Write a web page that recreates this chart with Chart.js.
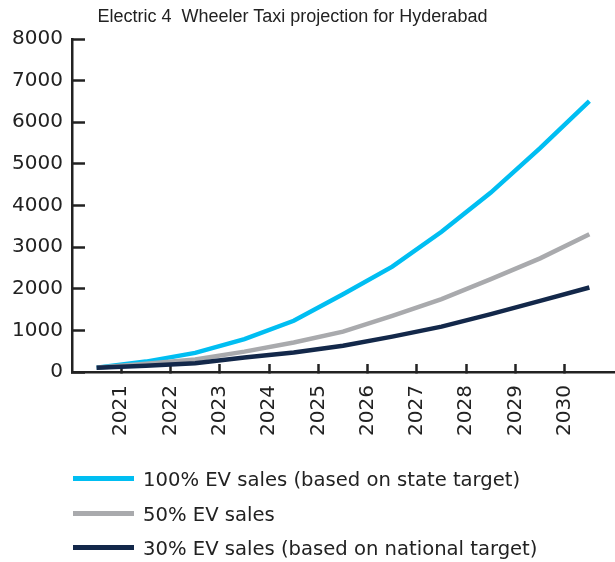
<!DOCTYPE html>
<html>
<head>
<meta charset="utf-8">
<script src="https://cdn.jsdelivr.net/npm/chart.js@4/dist/chart.umd.min.js"></script>
<style>
  html, body { margin: 0; padding: 0; background: #ffffff; }
  #wrap { position: relative; width: 615px; height: 562px; overflow: hidden; background: #fff; }
  #c { position: absolute; left: 0; top: 0; }
  #title { position: absolute; left: 0; top: 7px; width: 585px; text-align: center;
           font-family: "Liberation Sans", Arial, sans-serif; font-size: 18px; line-height: 18px;
           color: #222; white-space: pre; }
  .lg { position: absolute; left: 73px; height: 20px; display: flex; align-items: center;
        font-family: "DejaVu Sans", sans-serif; font-size: 19.6px; line-height: 20px; color: #222; white-space: nowrap; }
  .lg .sw { width: 61px; height: 5px; margin-right: 9px; position: relative; top: -2px; }
</style>
</head>
<body>
<div id="wrap">
  <canvas id="c" width="615" height="562"></canvas>
  <div id="title"></div>
  <div id="legend"></div>
</div>
<script>
const chartTitle = "Electric 4  Wheeler Taxi projection for Hyderabad";
const years = ["2021", "2022", "2023", "2024", "2025", "2026", "2027", "2028", "2029", "2030"];
const seriesNames = [
  "100% EV sales (based on state target)",
  "50% EV sales",
  "30% EV sales (based on national target)"
];
const ev100 = [100, 250, 460, 790, 1230, 1870, 2530, 3370, 4310, 5380, 6510];
const ev50  = [100, 200, 300, 490, 710, 970, 1350, 1750, 2230, 2730, 3310];
const ev30  = [100, 150, 210, 350, 470, 630, 850, 1090, 1390, 1710, 2030];
const colors = ["#00BEF2", "#A9AAAD", "#13284A"];
const yTicks = [0, 1000, 2000, 3000, 4000, 5000, 6000, 7000, 8000];

const toPts = arr => arr.map((v, i) => ({ x: i + 0.5, y: v }));
const allSeries = [ev100, ev50, ev30];

const datasets = allSeries.map((arr, k) => ({
  label: seriesNames[k],
  data: toPts(arr),
  borderColor: colors[k],
  backgroundColor: colors[k],
  borderWidth: 4.5,
  pointRadius: 0,
  tension: 0,
  fill: false,
  order: 3 - k,
  borderCapStyle: 'butt',
  borderJoinStyle: 'miter'
}));

const axisColor = "#222222";

new Chart(document.getElementById('c'), {
  type: 'line',
  data: { datasets },
  options: {
    responsive: false,
    devicePixelRatio: 1,
    animation: false,
    layout: { padding: { top: 39, right: 1, bottom: 110, left: 0 } },
    plugins: {
      legend: { display: false },
      title: { display: false },
      tooltip: { enabled: false }
    },
    scales: {
      x: {
        type: 'linear',
        min: 0,
        max: years.length + 1,
        afterBuildTicks: s => { s.ticks = years.map((y, i) => ({ value: i + 1 })); },
        afterFit: s => { s.height = 80; },
        border: { display: true, color: axisColor, width: 2.5 },
        grid: { drawOnChartArea: false, drawTicks: true, tickLength: -8, tickWidth: 2.5, tickColor: axisColor, color: axisColor },
        ticks: {
          autoSkip: false,
          maxRotation: 90, minRotation: 90,
          padding: 21,
          color: axisColor,
          font: { family: "DejaVu Sans", size: 20 },
          callback: (v, i) => years[i]
        }
      },
      y: {
        min: 0,
        max: 8000,
        afterBuildTicks: s => { s.ticks = yTicks.map(v => ({ value: v })); },
        afterFit: s => { s.width = 72; },
        border: { display: true, color: axisColor, width: 2.5 },
        grid: { drawOnChartArea: false, drawTicks: true, tickLength: -13, tickWidth: 2.5, tickColor: axisColor, color: axisColor },
        ticks: {
          padding: 22,
          color: axisColor,
          font: { family: "DejaVu Sans", size: 20 },
          callback: v => String(v)
        }
      }
    }
  }
});

document.getElementById('title').textContent = chartTitle;
const legendTops = [470, 505, 539];
const lg = document.getElementById('legend');
datasets.forEach((d, k) => {
  const row = document.createElement('div');
  row.className = 'lg';
  row.style.top = legendTops[k] + 'px';
  const sw = document.createElement('span');
  sw.className = 'sw';
  sw.style.background = d.borderColor;
  const tx = document.createElement('span');
  tx.textContent = d.label;
  row.appendChild(sw);
  row.appendChild(tx);
  lg.appendChild(row);
});
</script>
</body>
</html>
